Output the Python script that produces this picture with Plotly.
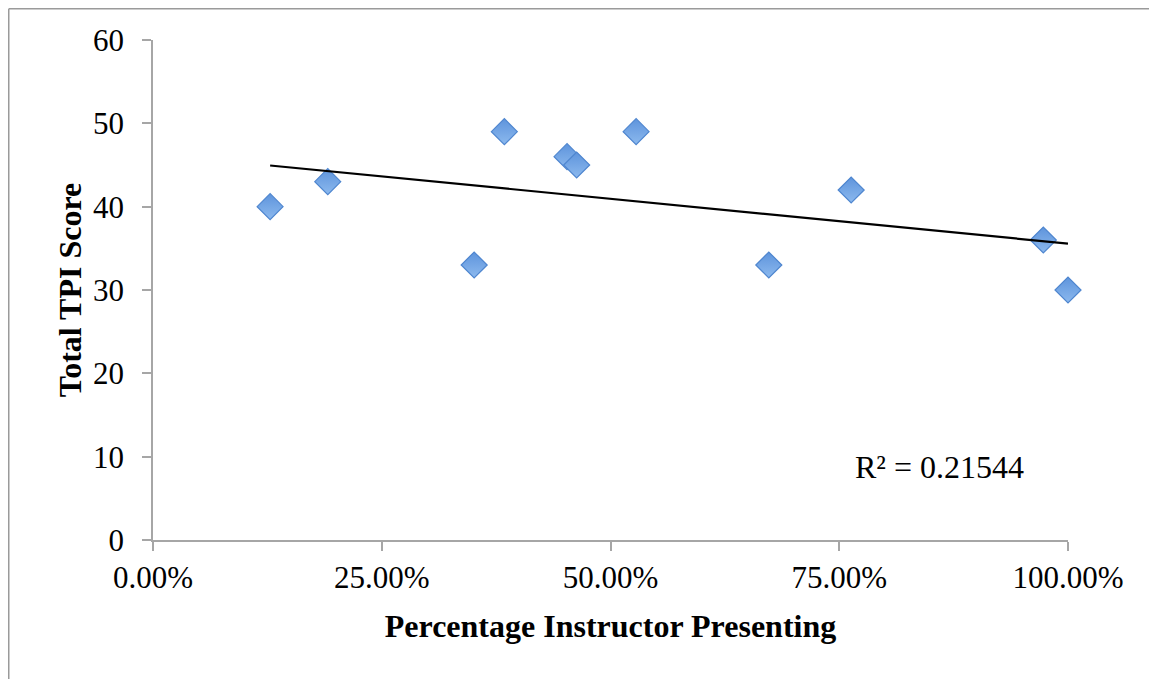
import numpy as np
import plotly.graph_objects as go

# Data
pct_presenting = [0.128, 0.191, 0.351, 0.384, 0.4525, 0.463, 0.528, 0.673, 0.763, 0.973, 1.0]
tpi_score = [40, 43, 33, 49, 46, 45, 49, 33, 42, 36, 30]
x_tick_vals = [0, 0.25, 0.5, 0.75, 1.0]
x_tick_text = ["0.00%", "25.00%", "50.00%", "75.00%", "100.00%"]
y_tick_vals = [0, 10, 20, 30, 40, 50, 60]
r2_label = "R² = 0.21544"

# Linear trendline (least squares) from the data
slope, intercept = np.polyfit(pct_presenting, tpi_score, 1)
x_line = [min(pct_presenting), max(pct_presenting)]
y_line = [slope * v + intercept for v in x_line]

FONT = "Liberation Serif, Times New Roman, serif"
AXIS_GRAY = "#a6a6a6"

fig = go.Figure()
fig.add_trace(go.Scatter(
    x=pct_presenting, y=tpi_score, mode="markers",
    marker=dict(symbol="diamond", size=20, color="#5e94dc",
                gradient=dict(type="vertical", color="#8cb9ee"),
                line=dict(color="#4f86cf", width=1.2)),
    showlegend=False, cliponaxis=False,
))
fig.add_trace(go.Scatter(
    x=x_line, y=y_line, mode="lines",
    line=dict(color="black", width=2.2), showlegend=False,
))

fig.add_annotation(x=0.86, y=8.75, xref="x", yref="y",
                   text=r2_label, showarrow=False,
                   font=dict(family=FONT, size=32, color="black"))

# page has an 8px body margin; size figure to fit the 1157x679 window
W, H = 1149, 671
l, t = 145, 32
pw, ph = 915, 500
r = W - l - pw
b = H - t - ph

def px_to_paper_x(px):
    return (px - l) / pw

def px_to_paper_y(py):
    return (H - b - py) / ph

# Outer chart border (top and left visible)
fig.add_shape(type="line", xref="paper", yref="paper",
              x0=px_to_paper_x(0.75), x1=px_to_paper_x(1200),
              y0=px_to_paper_y(0.75), y1=px_to_paper_y(0.75),
              line=dict(color="#9a9a9a", width=1.5))
fig.add_shape(type="line", xref="paper", yref="paper",
              x0=px_to_paper_x(0.75), x1=px_to_paper_x(0.75),
              y0=px_to_paper_y(0.75), y1=px_to_paper_y(720),
              line=dict(color="#9a9a9a", width=1.5))

fig.update_layout(
    width=W, height=H,
    margin=dict(l=l, r=r, t=t, b=b, autoexpand=False),
    paper_bgcolor="white", plot_bgcolor="white",
    font=dict(family=FONT, color="black"),
)
fig.update_xaxes(
    range=[0, 1.0], tickvals=x_tick_vals, ticktext=x_tick_text,
    showgrid=False, zeroline=False, showline=True, linecolor=AXIS_GRAY, linewidth=1.5,
    ticks="outside", ticklen=9, tickcolor=AXIS_GRAY, tickwidth=1.5,
    tickfont=dict(family=FONT, size=31, color="black"),
    title=dict(text="<b>Percentage Instructor Presenting</b>",
               font=dict(family=FONT, size=32, color="black"), standoff=21),
)
fig.update_yaxes(
    range=[0, 60], tickvals=y_tick_vals,
    showgrid=False, zeroline=False, showline=True, linecolor=AXIS_GRAY, linewidth=1.5,
    ticks="outside", ticklen=9, tickcolor=AXIS_GRAY, tickwidth=1.5,
    tickfont=dict(family=FONT, size=31, color="black"),
    ticklabelstandoff=12,
    title=dict(text="<b>Total TPI Score</b>",
               font=dict(family=FONT, size=32, color="black"), standoff=2),
)

fig.write_html("out.html")
